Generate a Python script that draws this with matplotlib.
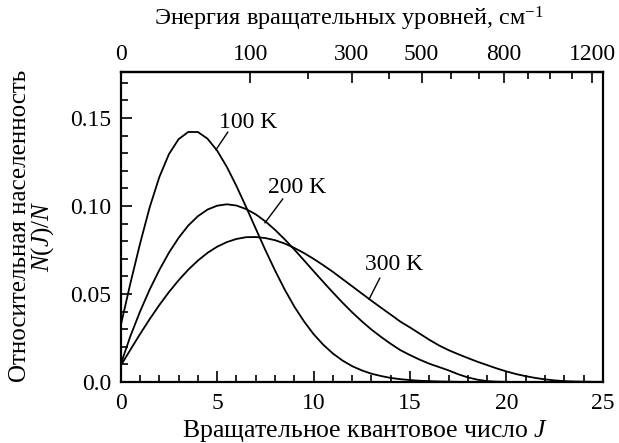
import numpy as np
import matplotlib
matplotlib.use("Agg")
import matplotlib.pyplot as plt
from matplotlib.ticker import MultipleLocator

plt.rcParams["font.family"] = ["Liberation Serif", "DejaVu Serif"]
plt.rcParams["mathtext.fontset"] = "custom"
plt.rcParams["mathtext.rm"] = "Liberation Serif"
plt.rcParams["mathtext.it"] = "Liberation Serif:italic"

# rotational constant, cm^-1 (used only for the energy scale on top)
B_ROT = 1.93

# J sampled every 0.5
J = np.arange(0, 25.01, 0.5)

pop_100K = [
    0.0320, 0.0560, 0.0785, 0.0992, 0.1164, 0.1295, 0.1380, 0.1421, 0.1421, 0.1383,
    0.1315, 0.1223, 0.1114, 0.0995, 0.0872, 0.0750, 0.0634, 0.0526, 0.0429, 0.0345,
    0.0272, 0.0212, 0.0162, 0.0122, 0.0090, 0.0066, 0.0047, 0.0034, 0.0023, 0.0016,
    0.0011, 0.0007, 0.0005, 0.0003, 0.0002, 0.0001, 0.0001, 0.0, 0.0, 0.0,
    0.0, 0.0, 0.0, 0.0, 0.0, 0.0, 0.0, 0.0, 0.0, 0.0, 0.0,
]
pop_200K = [
    0.0100, 0.0260, 0.0400, 0.0525, 0.0636, 0.0735, 0.0819, 0.0889, 0.0942, 0.0980,
    0.1002, 0.1010, 0.1003, 0.0983, 0.0953, 0.0913, 0.0865, 0.0811, 0.0753, 0.0692,
    0.0630, 0.0569, 0.0509, 0.0451, 0.0396, 0.0345, 0.0298, 0.0256, 0.0217, 0.0181,
    0.0153, 0.0127, 0.0104, 0.0085, 0.0066, 0.0044, 0.0026, 0.0013, 0.0005, 0.0002,
    0.0001, 0.0, 0.0, 0.0, 0.0, 0.0, 0.0, 0.0, 0.0, 0.0, 0.0,
]
pop_300K = [
    0.0093, 0.0183, 0.0272, 0.0357, 0.0437, 0.0511, 0.0578, 0.0638, 0.0690, 0.0734,
    0.0769, 0.0795, 0.0813, 0.0823, 0.0824, 0.0818, 0.0806, 0.0787, 0.0762, 0.0733,
    0.0700, 0.0664, 0.0626, 0.0585, 0.0544, 0.0503, 0.0462, 0.0422, 0.0383, 0.0343,
    0.0310, 0.0275, 0.0240, 0.0208, 0.0181, 0.0158, 0.0136, 0.0115, 0.0096, 0.0077,
    0.0060, 0.0045, 0.0033, 0.0023, 0.0015, 0.0009, 0.0005, 0.0003, 0.0002, 0.0001,
    0.0001,
]

x_ticks = [0, 5, 10, 15, 20, 25]
y_ticks = [0.0, 0.05, 0.10, 0.15]
y_tick_labels = ["0.0", "0.05", "0.10", "0.15"]
energy_ticks = [0, 100, 300, 500, 800, 1200]
energy_minor = [200, 400, 600, 700, 900, 1000, 1100]

# label text, its position, and the leader line from near the text to the curve
labels = [
    ("100 K", (6.6, 0.1475), (5.55, 0.1420), (4.94, 0.1320)),
    ("200 K", (9.15, 0.1105), (8.40, 0.1040), (7.48, 0.0905)),
    ("300 K", (14.15, 0.0670), (13.43, 0.0590), (12.88, 0.0471)),
]

TICK_FS = 17
LABEL_FS = 18

fig = plt.figure(figsize=(6.19, 4.43), dpi=100)
ax = fig.add_axes([0.195, 0.1377, 0.779, 0.699])

for pop in (pop_100K, pop_200K, pop_300K):
    ax.plot(J, pop, color="black", lw=1.3)

for text, txy, p0, p1 in labels:
    ax.text(txy[0], txy[1], text, fontsize=17, ha="center", va="center")
    ax.plot([p0[0], p1[0]], [p0[1], p1[1]], color="black", lw=1.0)

ax.set_xlim(0, 25)
ax.set_ylim(0, 0.176)
ax.set_xticks(x_ticks)
ax.set_xticklabels([str(t) for t in x_ticks])
ax.xaxis.set_minor_locator(MultipleLocator(1))
ax.set_yticks(y_ticks)
ax.set_yticklabels(y_tick_labels)
ax.yaxis.set_minor_locator(MultipleLocator(0.01))
ax.tick_params(which="both", direction="in", top=False, right=False,
               labelsize=TICK_FS, width=1.2)
ax.tick_params(which="major", length=8)
ax.tick_params(which="minor", length=5)
ax.tick_params(axis="x", which="major", pad=8)
ax.tick_params(axis="y", which="major", pad=7)
for s in ax.spines.values():
    s.set_linewidth(1.6)


def j_to_e(j):
    return B_ROT * j * (j + 1)


def e_to_j(e):
    return (-1 + np.sqrt(1 + 4 * np.maximum(e, 0) / B_ROT)) / 2


sec = ax.secondary_xaxis("top", functions=(j_to_e, e_to_j))
sec.set_xticks(energy_ticks)
sec.set_xticklabels([str(t) for t in energy_ticks])
sec.set_xticks(energy_minor, minor=True)
sec.tick_params(which="both", direction="in", labelsize=TICK_FS, width=1.2)
sec.tick_params(which="major", length=8, pad=5)
sec.tick_params(which="minor", length=5)
sec.spines["top"].set_linewidth(1.6)

# axis titles
fig.text(365 / 619, 1 - 431 / 443, "Вращательное квантовое число $J$",
         fontsize=18.5, ha="center", va="center")
fig.text(349 / 619, 1 - 19 / 443, "Энергия вращательных уровней, см$^{-1}$",
         fontsize=17.5, ha="center", va="center")
fig.text(20 / 619, 1 - 226 / 443, "Относительная населенность",
         fontsize=LABEL_FS, rotation=90, ha="center", va="center")
fig.text(43 / 619, 1 - 236 / 443, "$N(J)/N$",
         fontsize=LABEL_FS, rotation=90, ha="center", va="center")

fig.savefig("out.png", dpi=100)
